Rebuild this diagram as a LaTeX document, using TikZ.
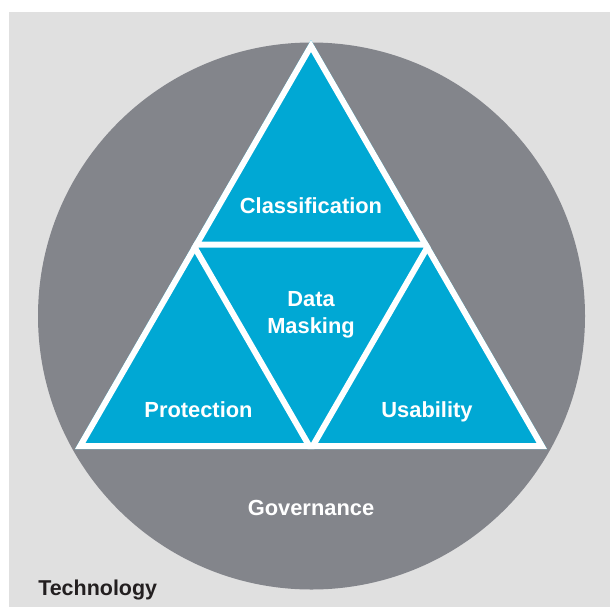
\documentclass[tikz,border=0pt]{standalone}
\usepackage{fontspec}
\setmainfont{Liberation Sans}
\definecolor{bgray}{HTML}{E0E0E0}
\definecolor{ringgray}{HTML}{83858B}
\definecolor{tblue}{HTML}{00A8D4}
\definecolor{darktext}{HTML}{231F20}
\begin{document}
\begin{tikzpicture}[x=0.75pt,y=-0.75pt,
  lbl/.style={text=white,font=\bfseries\fontsize{16.4}{19}\selectfont,anchor=base,inner sep=0pt},
  outer/.style={text=darktext,font=\bfseries\fontsize{16.1}{19}\selectfont,anchor=base west,inner sep=0pt}]
  % canvas and backdrop
  \useasboundingbox (0,0) rectangle (610,607);
  \fill[white] (0,0) rectangle (610,607);
  \fill[bgray] (9,12) rectangle (610,607);
  % governance disc
  \fill[ringgray] (311.5,316) circle[radius=273.5];
  % corner points of the big triangle and the midpoints of its sides
  \coordinate (A) at (311,40);
  \coordinate (B) at (75,449);
  \coordinate (C) at (547,449);
  \coordinate (mAB) at (193,244.5);
  \coordinate (mAC) at (429,244.5);
  \coordinate (mBC) at (311,449);
  \fill[tblue] (A) -- (B) -- (C) -- cycle;
  \begin{scope}
    \clip (A) -- (B) -- (C) -- cycle;
    \draw[white,line width=9pt,line join=miter] (A) -- (B) -- (C) -- cycle;
    \draw[white,line width=4.5pt,line join=miter] (mAB) -- (mAC) -- (mBC) -- cycle;
  \end{scope}
  % labels
  \node[lbl] (cls) at (311,213) {Classification};
  \node[lbl] (dat) at (311,306) {Data};
  \node[lbl] (msk) at (311,333) {Masking};
  \node[lbl] (pro) at (198.5,417) {Protection};
  \node[lbl] (usa) at (427,417) {Usability};
  \node[lbl] (gov) at (311,515) {Governance};
  \node[outer] (tec) at (38,595) {Technology};
\end{tikzpicture}
\end{document}
